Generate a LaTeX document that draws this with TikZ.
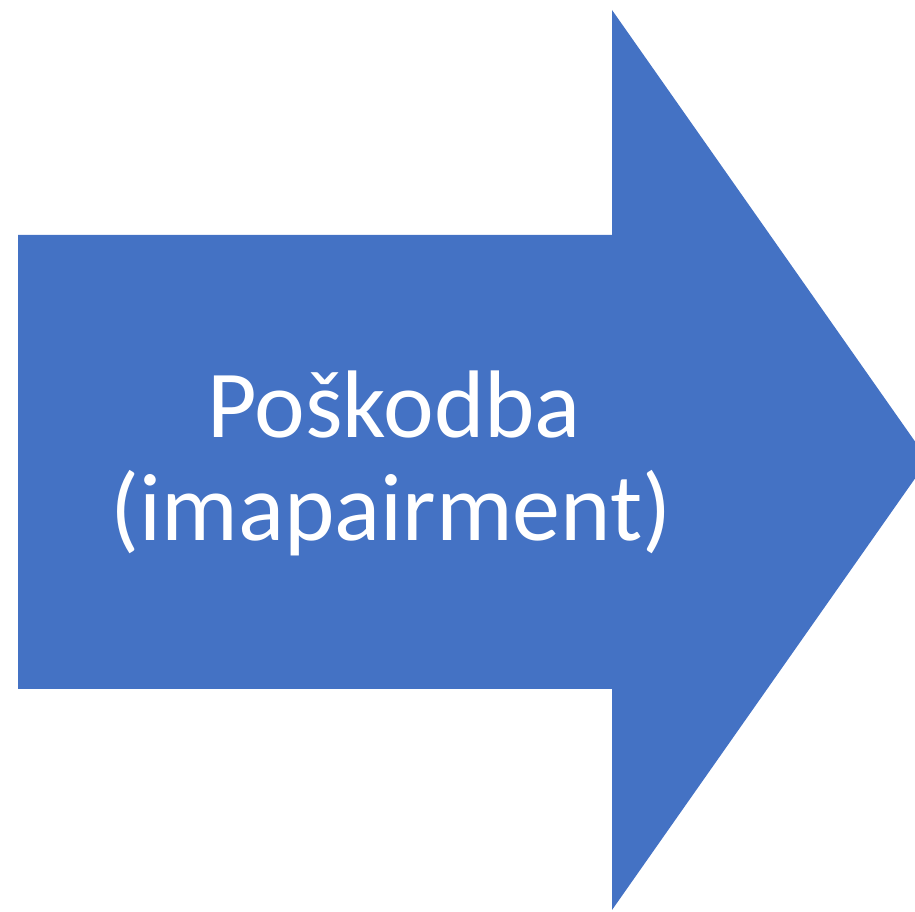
\documentclass[tikz,border=0pt]{standalone}
\usepackage{fontspec}
\setmainfont{Carlito}
\definecolor{arrowblue}{HTML}{4472C4}
\begin{document}
\begin{tikzpicture}[x=1pt,y=1pt,
  arrowshape/.style={fill=arrowblue,draw=none},
  lbl/.style={text=white,font=\fontsize{96}{104}\selectfont,anchor=base,inner sep=0pt}]
\useasboundingbox (0,0) rectangle (915,912);
\begin{scope}
\clip (0,0) rectangle (915,912);
\fill[arrowblue] (18,677) -- (612,677) -- (612,902) -- (928,452) -- (612,2) -- (612,223) -- (18,223) -- cycle;
\end{scope}
\node[lbl] (l1) at (394,474) {Poškodba};
\node[lbl] (l2) at (391,371) {(imapairment)};
\end{tikzpicture}
\end{document}
